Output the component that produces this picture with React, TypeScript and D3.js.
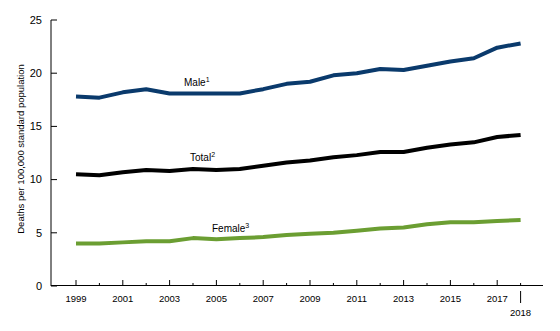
import React from "react";
import * as d3 from "d3";

const years = [1999, 2000, 2001, 2002, 2003, 2004, 2005, 2006, 2007, 2008, 2009, 2010, 2011, 2012, 2013, 2014, 2015, 2016, 2017, 2018];
const male = [17.8, 17.7, 18.2, 18.5, 18.1, 18.1, 18.1, 18.1, 18.5, 19.0, 19.2, 19.8, 20.0, 20.4, 20.3, 20.7, 21.1, 21.4, 22.4, 22.8];
const total = [10.5, 10.4, 10.7, 10.9, 10.8, 11.0, 10.9, 11.0, 11.3, 11.6, 11.8, 12.1, 12.3, 12.6, 12.6, 13.0, 13.3, 13.5, 14.0, 14.2];
const female = [4.0, 4.0, 4.1, 4.2, 4.2, 4.5, 4.4, 4.5, 4.6, 4.8, 4.9, 5.0, 5.2, 5.4, 5.5, 5.8, 6.0, 6.0, 6.1, 6.2];
const yTicks = [0, 5, 10, 15, 20, 25];
const xLabelYears = [1999, 2001, 2003, 2005, 2007, 2009, 2011, 2013, 2015, 2017];
const yTitle = "Deaths per 100,000 standard population";

const FONT = "'Liberation Sans', Arial, sans-serif";

export default function App() {
  const W = 560, H = 331;
  const x0 = 51, xEnd = 543;
  const x = d3.scaleLinear().domain([1999, 2018]).range([76, 520.6]);
  const y = d3.scaleLinear().domain([0, 25]).range([286, 20]);
  const line = d3.line<number>().x((_, i) => x(years[i])).y((d) => y(d)).curve(d3.curveLinear);

  const series = [
    { name: "Male", sup: "1", data: male, color: "#0a3a6c", lx: 184, ly: 86 },
    { name: "Total", sup: "2", data: total, color: "#000000", lx: 190, ly: 161 },
    { name: "Female", sup: "3", data: female, color: "#6b9e32", lx: 212, ly: 232 },
  ];

  return (
    <div style={{ position: "absolute", left: 0, top: 0 }}>
      <svg width={W} height={H} style={{ display: "block" }}>
        <rect width={W} height={H} fill="#fff" />
        {/* y axis */}
        <line x1={x0} x2={x0} y1={y(25)} y2={y(0)} stroke="#000" strokeWidth={1} />
        {yTicks.map((t) => (
          <g key={t}>
            <line x1={x0} x2={x0 + 6} y1={y(t)} y2={y(t)} stroke="#000" />
            <text x={x0 - 9} y={y(t)} dy="0.35em" textAnchor="end" fontFamily={FONT} fontSize={11}>
              {t}
            </text>
          </g>
        ))}
        <text
          transform={`translate(21,149) rotate(-90)`}
          textAnchor="middle"
          dy="0.35em"
          fontFamily={FONT}
          fontSize={9.5}
        >
          {yTitle}
        </text>
        {/* x axis */}
        <line x1={x0} x2={xEnd} y1={y(0) - 0.5} y2={y(0) - 0.5} stroke="#000" strokeWidth={1} />
        {years.map((yr) => {
          const major = xLabelYears.includes(yr);
          return (
            <line
              key={yr}
              x1={x(yr)}
              x2={x(yr)}
              y1={y(0)}
              y2={y(0) - (major ? 6 : 3)}
              stroke="#000"
            />
          );
        })}
        {xLabelYears.map((yr) => (
          <text key={yr} x={x(yr)} y={299} dy="0.35em" textAnchor="middle" fontFamily={FONT} fontSize={9.5}>
            {yr}
          </text>
        ))}
        <line x1={x(2018)} x2={x(2018)} y1={291} y2={303} stroke="#000" />
        <text x={x(2018)} y={313} dy="0.35em" textAnchor="middle" fontFamily={FONT} fontSize={9.5}>
          2018
        </text>
        {/* lines */}
        {series.map((s) => (
          <path key={s.name} d={line(s.data) || ""} fill="none" stroke={s.color} strokeWidth={4} strokeLinejoin="round" />
        ))}
        {series.map((s) => (
          <text key={s.name + "l"} x={s.lx} y={s.ly} fontFamily={FONT} fontSize={10}>
            {s.name}
            <tspan fontSize={7} dy={-4}>{s.sup}</tspan>
          </text>
        ))}
      </svg>
    </div>
  );
}
